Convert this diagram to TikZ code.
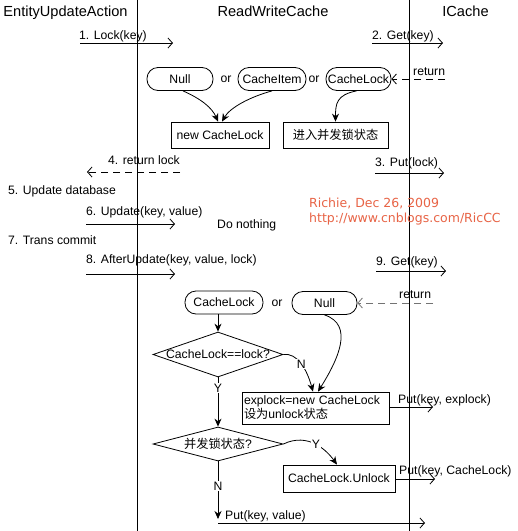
\documentclass[tikz,border=0pt]{standalone}
\usepackage{fontspec}
\setmainfont{Liberation Sans}
\newfontfamily\cjk{Noto Sans CJK SC}
\newfontfamily\redfont{DejaVu Sans}
\usetikzlibrary{arrows.meta,shapes.geometric}
\definecolor{sigred}{RGB}{232,100,70}
\begin{document}
\begin{tikzpicture}[x=1pt,y=-1pt,
  every node/.style={font=\fontsize{12.2}{14}\selectfont, inner sep=0pt},
  hdr/.style={anchor=base, font=\fontsize{14.6}{16}\selectfont},
  lbl/.style={anchor=base west},
  msgline/.style={line width=0.8pt, -{Straight Barb[length=4.5pt,width=10pt,line width=0.8pt]}},
  retline/.style={msgline, dash pattern=on 7pt off 5pt},
  flow/.style={line width=0.8pt, -{Stealth[length=8pt,width=7pt]}},
  rbox/.style={draw, line width=0.8pt, rounded corners=11pt, minimum height=23pt},
  sbox/.style={draw, line width=0.8pt, minimum height=26pt},
  dia/.style={draw, line width=0.8pt, diamond, inner sep=0pt},
  cut/.style={fill=white, inner sep=1pt},
  redtxt/.style={anchor=base west, text=sigred, font=\redfont\fontsize{12.5}{14}\selectfont}
]
\useasboundingbox (0,0) rectangle (518,531);
\fill[white] (0,0) rectangle (518,531);

% lifelines
\coordinate (l1t) at (137,0); \coordinate (l1b) at (137,531);
\coordinate (l2t) at (409,0); \coordinate (l2b) at (409,531);
\draw[line width=0.8pt] (l1t) -- (l1b);
\draw[line width=0.8pt] (l2t) -- (l2b);

% headers
\node[hdr] (hEUA) at (65.5,16) {EntityUpdateAction};
\node[hdr] (hRWC) at (273,16) {ReadWriteCache};
\node[hdr] (hIC) at (465.5,16) {ICache};

% 1. Lock
\coordinate (m1a) at (80,43); \coordinate (m1b) at (173,43);
\draw[msgline] (m1a) -- (m1b);
\node[lbl] (t1) at (79,39) {1. Lock(key)};
% 2. Get
\coordinate (m2a) at (372,43); \coordinate (m2b) at (443,43);
\draw[msgline] (m2a) -- (m2b);
\node[lbl] (t2) at (372,39) {2. Get(key)};

% top candidates
\node[rbox, minimum width=66pt] (null1) at (180,79) {Null};
\node (or1) at (226,79) {or};
\node[rbox, minimum width=68pt] (nItem) at (272,79) {CacheItem};
\node (or2) at (314,79) {or};
\node[rbox, minimum width=65pt] (nLock1) at (358.5,79) {CacheLock};
\coordinate (r1a) at (445,79);
\draw[retline] (r1a) -- (nLock1.east);
\node[lbl] (tr1) at (413,75) {return};

\node[sbox, minimum width=98pt] (nNew) at (220,135) {new CacheLock};
\node[sbox, minimum width=105pt] (nEnter) at (335.5,135) {\cjk 进入并发锁状态};

\draw[flow] ([xshift=3pt]null1.south) .. controls +(18,8) and +(-6,-14) .. ([xshift=-2pt]nNew.north);
\draw[flow] (nItem.south) .. controls +(-22,6) and +(8,-14) .. ([xshift=2pt]nNew.north);
\draw[flow] ([xshift=-2pt]nLock1.south) .. controls +(-20,4) and +(0,-18) .. (nEnter.north);

% 4. return lock
\coordinate (m4a) at (180,172); \coordinate (m4b) at (87,172);
\draw[retline] (m4a) -- (m4b);
\node[lbl] (t4) at (108,164) {4. return lock};
% 3. Put(lock)
\coordinate (m3a) at (375,173); \coordinate (m3b) at (444,173);
\draw[msgline] (m3a) -- (m3b);
\node[lbl] (t3) at (375,166.5) {3. Put(lock)};

\node[lbl] (t5) at (8,194) {5. Update database};
\coordinate (m6a) at (86,224); \coordinate (m6b) at (175,224);
\draw[msgline] (m6a) -- (m6b);
\node[lbl] (t6) at (86,215) {6. Update(key, value)};
\node[lbl] (tdn) at (217,228) {Do nothing};

\node[redtxt] (sig1) at (309,207.5) {Richie, Dec 26, 2009};
\node[redtxt] (sig2) at (309,222.5) {http://www.cnblogs.com/RicCC};

\node[lbl] (t7) at (8,244) {7. Trans commit};
\coordinate (m8a) at (86,274); \coordinate (m8b) at (175,274);
\draw[msgline] (m8a) -- (m8b);
\node[lbl] (t8) at (86,263.5) {8. AfterUpdate(key, value, lock)};
\coordinate (m9a) at (376,271); \coordinate (m9b) at (446,271);
\draw[msgline] (m9a) -- (m9b);
\node[lbl] (t9) at (376,265) {9. Get(key)};

% bottom section
\node[rbox, minimum width=78pt] (nLock2) at (224,302.5) {CacheLock};
\node (or3) at (277,303) {or};
\node[rbox, minimum width=65pt] (nNull2) at (324.5,303) {Null};
\coordinate (r2a) at (433,303);
\draw[retline, draw=black!55] (r2a) -- (nNull2.east);
\node[lbl] (tr2) at (399,298) {return};

\node[dia, minimum width=130pt, minimum height=45pt, label={center:CacheLock==lock?}] (dCmp) at (218,354.5) {};
\draw[flow] (dCmp.north |- nLock2.south) -- (dCmp.north);

\node[sbox, minimum width=147pt, minimum height=32pt, align=left, text width=143pt] (nExp) at (315.5,408) {explock=new CacheLock\\{\cjk 设为}unlock{\cjk 状态}};

\draw[flow] (dCmp.east) .. controls +(14,-2) and +(-6,-22) .. node[cut, pos=0.5] {N} ([xshift=-2.5pt]nExp.north);
\draw[flow] (nNull2.south) .. controls +(30,10) and +(20,-32) .. ([xshift=2.5pt]nExp.north);

\node[dia, minimum width=130pt, minimum height=34pt, label={center:{\cjk 并发锁状态}?}] (dBusy) at (218,444) {};
\draw[flow] (dCmp.south) -- node[cut, pos=0.22] {Y} (dBusy.north);

\node[sbox, minimum width=112pt, minimum height=27pt] (nUnl) at (339,478.5) {CacheLock.Unlock};
\draw[flow] (dBusy.east) .. controls +(25,-12) and +(-10,-14) .. node[cut, pos=0.5] {Y} ([xshift=-2pt]nUnl.north);

\coordinate (pe) at (433,407);
\draw[msgline] (nExp.east |- pe) -- (pe);
\node[lbl] (tpe) at (398,403) {Put(key, explock)};
\coordinate (pc) at (435,479);
\draw[msgline] (nUnl.east |- pc) -- (pc);
\node[lbl] (tpc) at (399,474) {Put(key, CacheLock)};

\coordinate (nEnd) at (218,519);
\draw[flow] (dBusy.south) -- node[cut, pos=0.43] {N} (nEnd);
\coordinate (hs) at (218,523); \coordinate (he) at (425,523);
\draw[msgline] (hs) -- (he);
\node[lbl] (tpv) at (225,519.5) {Put(key, value)};
\end{tikzpicture}
\end{document}
